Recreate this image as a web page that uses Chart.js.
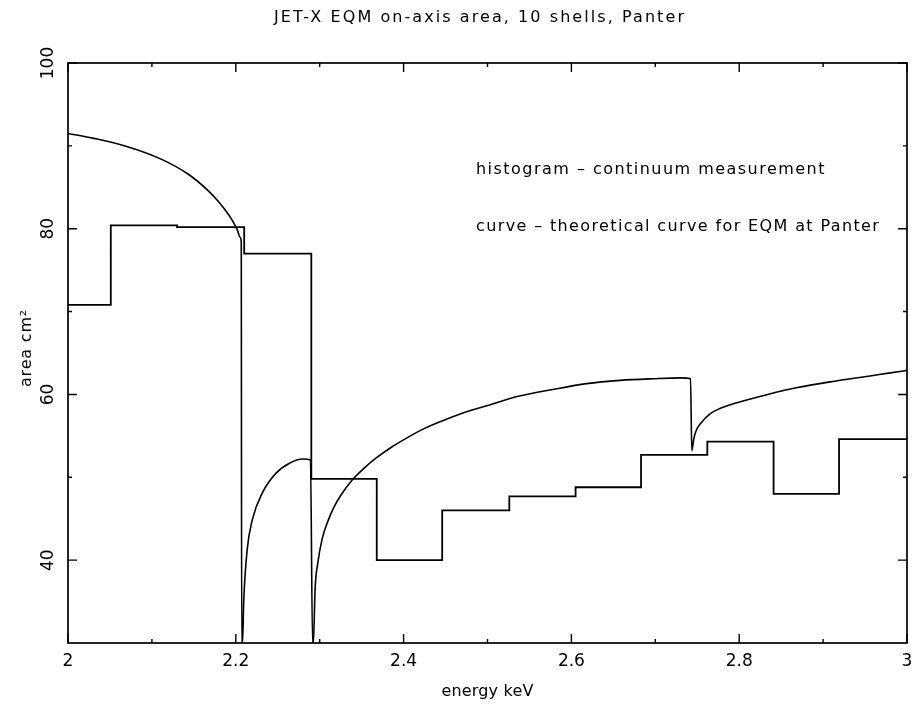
<!DOCTYPE html>
<html>
<head>
<meta charset="utf-8">
<script src="https://cdn.jsdelivr.net/npm/chart.js@4.4.1/dist/chart.umd.min.js"></script>
<style>
  html, body { margin: 0; padding: 0; background: #fff; }
</style>
</head>
<body>
<canvas id="chart" width="916" height="704"></canvas>
<script>
// histogram bins: continuum measurement (edges in keV, area in cm2)
const histEdges = [2.0, 2.051, 2.13, 2.21, 2.29, 2.368, 2.446, 2.526, 2.605, 2.683, 2.762, 2.841, 2.919, 3.0];
const histArea = [70.8, 80.4, 80.2, 77.0, 49.8, 40.0, 46.0, 47.7, 48.8, 52.7, 54.3, 48.0, 54.6];

// theoretical curve (drops at the Au M edges)
const curveEnergy = [
  2.000, 2.031, 2.071, 2.111, 2.143, 2.167, 2.180, 2.190, 2.197, 2.202, 2.205, 2.2065, 2.207,
  2.208, 2.2095, 2.2135, 2.2195, 2.2315, 2.248, 2.264, 2.280, 2.289, 2.2915,
  2.2925, 2.2945, 2.2975, 2.303, 2.309, 2.317, 2.325, 2.339, 2.353, 2.367, 2.385, 2.403,
  2.425, 2.451, 2.475, 2.498, 2.538, 2.578, 2.618, 2.658, 2.698, 2.730, 2.742, 2.7435,
  2.746, 2.749, 2.754, 2.766, 2.777, 2.794, 2.834, 2.868, 2.914, 2.954, 2.980, 3.000
];
const curveArea = [
  91.5, 90.9, 89.9, 88.4, 86.6, 84.6, 83.2, 81.9, 80.8, 79.8, 79.0, 78.4, 30,
  30, 35.2, 41.2, 44.8, 48.1, 50.5, 51.7, 52.2, 52.1, 30,
  30, 36.5, 39.5, 42.6, 44.5, 46.4, 47.8, 49.7, 51.1, 52.3, 53.6, 54.7,
  55.9, 57.0, 57.9, 58.6, 59.8, 60.6, 61.3, 61.7, 61.9, 62.0, 61.9, 53.2,
  54.7, 55.7, 56.5, 57.7, 58.3, 58.9, 60.0, 60.8, 61.6, 62.2, 62.6, 62.9
];

const xMajor = [2, 2.2, 2.4, 2.6, 2.8, 3];
const xMinor = [2.1, 2.3, 2.5, 2.7, 2.9];
const yMajor = [40, 60, 80, 100];
const yMinor = [50, 70, 90];
const xTickLabels = ['2', '2.2', '2.4', '2.6', '2.8', '3'];
const yTickLabels = ['40', '60', '80', '100'];

const titleText = 'JET-X EQM on-axis area, 10 shells, Panter';
const xTitle = 'energy keV';
const yTitle = 'area cm²';
const notes = ['histogram – continuum measurement', 'curve – theoretical curve for EQM at Panter'];

const FONT = '"DejaVu Sans", sans-serif';

// text helper: optional rotation and stretch to a target width (letter spacing)
function drawText(ctx, text, x, y, o = {}) {
  ctx.save();
  ctx.font = `${o.size || 15}px ${FONT}`;
  ctx.fillStyle = '#000';
  ctx.textAlign = o.align || 'center';
  ctx.textBaseline = 'middle';
  if (o.width) {
    ctx.letterSpacing = '0px';
    const w = ctx.measureText(text).width;
    ctx.letterSpacing = ((o.width - w) / text.length).toFixed(2) + 'px';
  }
  ctx.translate(x, y);
  if (o.rotate) ctx.rotate(o.rotate);
  ctx.fillText(text, 0, 0);
  ctx.restore();
}

// frame with inward ticks on all four sides, labels and notes
const framePlugin = {
  id: 'frame',
  afterDatasetsDraw(chart) {
    const { ctx, chartArea: a, scales: { x, y } } = chart;
    ctx.save();
    ctx.strokeStyle = '#000';
    ctx.lineWidth = 1.7;
    ctx.strokeRect(a.left, a.top, a.right - a.left, a.bottom - a.top);

    ctx.lineWidth = 1.4;
    ctx.beginPath();
    const xt = (vals, len) => vals.forEach(v => {
      const px = x.getPixelForValue(v);
      ctx.moveTo(px, a.bottom); ctx.lineTo(px, a.bottom - len);
      ctx.moveTo(px, a.top); ctx.lineTo(px, a.top + len);
    });
    const yt = (vals, len) => vals.forEach(v => {
      const py = y.getPixelForValue(v);
      ctx.moveTo(a.left, py); ctx.lineTo(a.left + len, py);
      ctx.moveTo(a.right, py); ctx.lineTo(a.right - len, py);
    });
    xt(xMajor, 9); xt(xMinor, 4);
    yt(yMajor, 9); yt(yMinor, 4);
    ctx.stroke();
    ctx.restore();

    xMajor.forEach((v, i) => drawText(ctx, xTickLabels[i], x.getPixelForValue(v), a.bottom + 19, { size: 17 }));
    yMajor.forEach((v, i) => drawText(ctx, yTickLabels[i], a.left - 19, y.getPixelForValue(v), { size: 17, rotate: -Math.PI / 2 }));

    drawText(ctx, titleText, 480, 18, { size: 16, width: 412 });
    drawText(ctx, xTitle, (a.left + a.right) / 2, 692, { size: 16, width: 92 });
    drawText(ctx, yTitle, 27, 348, { size: 16, rotate: -Math.PI / 2, width: 78 });
    drawText(ctx, notes[0], 476, 170, { size: 16, align: 'left', width: 350 });
    drawText(ctx, notes[1], 476, 227, { size: 16, align: 'left', width: 404 });
  }
};

new Chart(document.getElementById('chart'), {
  type: 'line',
  data: {
    datasets: [
      {
        label: 'histogram',
        data: histEdges.map((e, i) => ({ x: e, y: histArea[Math.min(i, histArea.length - 1)] })),
        stepped: true,
        borderColor: '#000', borderWidth: 1.8,
        pointRadius: 0, fill: false
      },
      {
        label: 'curve',
        data: curveEnergy.map((e, i) => ({ x: e, y: curveArea[i] })),
        borderColor: '#000', borderWidth: 1.6,
        pointRadius: 0, fill: false,
        cubicInterpolationMode: 'monotone'
      }
    ]
  },
  options: {
    responsive: false,
    animation: false,
    layout: { padding: { left: 68, right: 9, top: 63, bottom: 61 } },
    plugins: { legend: { display: false }, tooltip: { enabled: false } },
    scales: {
      x: { type: 'linear', min: 2, max: 3, display: false },
      y: { min: 30, max: 100, display: false }
    }
  },
  plugins: [framePlugin]
});
</script>
</body>
</html>
